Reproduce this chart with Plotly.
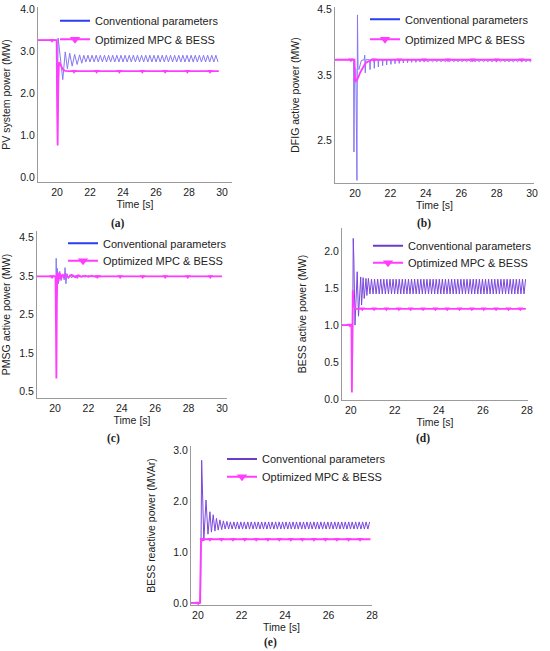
import plotly.graph_objects as go

# ------------------------------ (a) PV system power ------------------------------
pv_conv_t = [18.85, 19.98, 20.02, 20.07, 20.35, 20.5, 20.63, 20.77, 20.92, 21.07, 21.22, 21.37, 21.5,
             21.625, 21.75, 21.875, 22.0, 22.125, 22.25, 22.375, 22.5, 22.625, 22.75,
             22.875, 23.0, 23.125, 23.25, 23.375, 23.5, 23.625, 23.75, 23.875, 24.0,
             24.125, 24.25, 24.375, 24.5, 24.625, 24.75, 24.875, 25.0, 25.125, 25.25,
             25.375, 25.5, 25.625, 25.75, 25.875, 26.0, 26.125, 26.25, 26.375, 26.5,
             26.625, 26.75, 26.875, 27.0, 27.125, 27.25, 27.375, 27.5, 27.625, 27.75,
             27.875, 28.0, 28.125, 28.25, 28.375, 28.5, 28.625, 28.75, 28.875, 29.0,
             29.125, 29.25, 29.375, 29.5, 29.625, 29.75]
pv_conv_p = [3.26, 3.26, 1.90, 3.31, 2.32, 2.98, 2.58, 2.95, 2.64, 2.92, 2.68, 2.91, 2.71,
             2.90, 2.74, 2.90, 2.74, 2.90, 2.74, 2.90, 2.74, 2.90, 2.74,
             2.90, 2.74, 2.90, 2.74, 2.90, 2.74, 2.90, 2.74, 2.90, 2.74,
             2.90, 2.74, 2.90, 2.74, 2.90, 2.74, 2.90, 2.74, 2.90, 2.74,
             2.90, 2.74, 2.90, 2.74, 2.90, 2.74, 2.90, 2.74, 2.90, 2.74,
             2.90, 2.74, 2.90, 2.74, 2.90, 2.74, 2.90, 2.74, 2.90, 2.74,
             2.90, 2.74, 2.90, 2.74, 2.90, 2.74, 2.90, 2.74, 2.90, 2.74,
             2.90, 2.74, 2.90, 2.74, 2.90, 2.74]
pv_opt_t = [18.85, 19.98, 20.01, 20.04, 20.08, 20.12, 20.18, 20.26, 20.36, 20.5, 20.7, 29.8]
pv_opt_p = [3.26, 3.26, 1.60, 0.75, 2.20, 2.73, 2.70, 2.62, 2.56, 2.53, 2.52, 2.52]
pv_mk_t = [19.7, 21.03, 22.4, 23.78, 25.17, 26.55, 27.9, 29.27]
pv_mk_p = [3.26, 2.52, 2.52, 2.52, 2.52, 2.52, 2.52, 2.52]

# ------------------------------ (b) DFIG active power ------------------------------
dfig_conv_t = [18.87, 19.92, 19.94, 19.97, 20.05, 20.11, 20.14, 20.17, 20.22, 20.28, 20.36, 20.52, 20.55, 20.58, 20.61,
               20.83, 20.85, 20.87, 21.07, 21.09, 21.11, 21.30, 21.32, 21.34, 21.54, 21.56, 21.58,
               21.77, 21.79, 21.81, 22.01, 22.03, 22.05, 22.24, 22.26, 22.28, 22.48, 22.50, 22.52,
               22.71, 22.73, 22.75, 22.95, 22.97, 22.99, 23.18, 23.20, 23.22, 23.42, 23.44, 23.46,
               23.65, 23.67, 23.69, 23.89, 23.91, 23.93,
               24.14, 24.26, 24.38, 24.50, 24.62, 24.74, 24.86, 24.98, 25.10, 25.22,
               25.34, 25.46, 25.58, 25.70, 25.82, 25.94, 26.06, 26.18, 26.30, 26.42,
               26.54, 26.66, 26.78, 26.90, 27.02, 27.14, 27.26, 27.38, 27.50, 27.62,
               27.74, 27.86, 27.98, 28.10, 28.22, 28.34, 28.46, 28.58, 28.70, 28.82,
               28.94, 29.06, 29.18, 29.30, 29.42, 29.54, 29.66, 29.78, 29.90, 29.95]
dfig_conv_p = [3.73, 3.73, 2.33, 3.62, 3.58, 1.90, 4.41, 3.60, 3.58, 3.66, 3.72, 3.73, 3.80, 3.53, 3.73,
               3.73, 3.58, 3.73, 3.73, 3.60, 3.73, 3.73, 3.62, 3.73, 3.73, 3.64, 3.73,
               3.73, 3.65, 3.73, 3.73, 3.66, 3.73, 3.73, 3.67, 3.73, 3.73, 3.675, 3.73,
               3.73, 3.68, 3.73, 3.73, 3.685, 3.73, 3.73, 3.69, 3.73, 3.73, 3.69, 3.73,
               3.73, 3.695, 3.73, 3.73, 3.70, 3.73,
               3.70, 3.73, 3.70, 3.73, 3.70, 3.73, 3.70, 3.73, 3.70, 3.73,
               3.70, 3.73, 3.70, 3.73, 3.70, 3.73, 3.70, 3.73, 3.70, 3.73,
               3.70, 3.73, 3.70, 3.73, 3.70, 3.73, 3.70, 3.73, 3.70, 3.73,
               3.70, 3.73, 3.70, 3.73, 3.70, 3.73, 3.70, 3.73, 3.70, 3.73,
               3.70, 3.73, 3.70, 3.73, 3.70, 3.73, 3.70, 3.73, 3.70, 3.73]
dfig_opt_t = [18.87, 19.97, 20.0, 20.05, 20.1, 20.18, 20.3, 20.45, 20.6, 20.8, 21.0, 29.95]
dfig_opt_p = [3.73, 3.73, 3.45, 3.42, 3.43, 3.46, 3.54, 3.62, 3.68, 3.71, 3.73, 3.73]
dfig_mk_t = [19.77, 20.04, 21.07, 22.5, 23.9, 25.25, 26.65, 28.0, 29.4]
dfig_mk_p = [3.73, 3.42, 3.73, 3.73, 3.73, 3.73, 3.73, 3.73, 3.73]

# ------------------------------ (c) PMSG active power ------------------------------
pmsg_conv_t = [18.92, 20.02, 20.05, 20.07, 20.10, 20.14, 20.20, 20.28, 20.36, 20.45, 20.55, 20.60, 20.65, 20.72,
               20.80, 20.90, 21.00, 21.10, 21.20, 21.35, 21.50, 21.65, 21.80, 22.00, 22.20, 22.40, 22.60, 23.00, 30.00]
pmsg_conv_p = [3.49, 3.49, 3.20, 3.96, 3.15, 3.70, 3.30, 3.62, 3.38, 3.55, 3.40, 3.72, 3.30, 3.56,
               3.44, 3.54, 3.45, 3.53, 3.46, 3.52, 3.47, 3.51, 3.47, 3.51, 3.48, 3.50, 3.48, 3.49, 3.49]
pmsg_opt_t = [18.92, 20.03, 20.06, 20.08, 20.11, 20.14, 20.20, 20.27, 20.35, 20.45, 20.55, 20.65,
              20.80, 21.00, 21.20, 21.40, 21.60, 21.80, 22.00, 22.20, 22.40, 22.60, 22.80, 30.00]
pmsg_opt_p = [3.49, 3.49, 2.00, 0.84, 2.80, 3.60, 3.35, 3.58, 3.42, 3.55, 3.45, 3.54,
              3.46, 3.53, 3.47, 3.52, 3.48, 3.51, 3.48, 3.51, 3.48, 3.50, 3.49, 3.49]
pmsg_mk_t = [19.82, 20.28, 21.33, 22.53, 23.9, 25.25, 26.6, 27.95, 29.3]
pmsg_mk_p = [3.49, 3.49, 3.49, 3.49, 3.49, 3.49, 3.49, 3.49, 3.49]

# ------------------------------ (d) BESS active power ------------------------------
bessp_conv_t = [19.6, 20.04, 20.08, 20.11, 20.14, 20.19, 20.29, 20.35, 20.45, 20.49, 20.56, 20.61, 20.69, 20.73,
                20.80, 20.87, 20.94, 21.01, 21.08, 21.15, 21.22, 21.29, 21.36, 21.43,
                21.50, 21.57, 21.64, 21.71, 21.78, 21.85, 21.92, 21.99, 22.06, 22.13,
                22.20, 22.27, 22.34, 22.41, 22.48, 22.55, 22.62, 22.69, 22.76, 22.83,
                22.90, 22.97, 23.04, 23.11, 23.18, 23.25, 23.32, 23.39, 23.46, 23.53,
                23.60, 23.67, 23.74, 23.81, 23.88, 23.95, 24.02, 24.09, 24.16, 24.23,
                24.30, 24.37, 24.44, 24.51, 24.58, 24.65, 24.72, 24.79, 24.86, 24.93,
                25.00, 25.07, 25.14, 25.21, 25.28, 25.35, 25.42, 25.49, 25.56, 25.63,
                25.70, 25.77, 25.84, 25.91, 25.98, 26.05, 26.12, 26.19, 26.26, 26.33,
                26.40, 26.47, 26.54, 26.61, 26.68, 26.75, 26.82, 26.89, 26.96, 27.03,
                27.10, 27.17, 27.24, 27.31, 27.38, 27.45, 27.52, 27.59, 27.66, 27.73,
                27.80, 27.87, 27.94]
bessp_conv_p = [1.00, 1.00, 0.60, 2.17, 1.88, 1.00, 1.72, 1.12, 1.65, 1.27, 1.64, 1.36, 1.63, 1.40,
                1.63, 1.42, 1.62, 1.42, 1.62, 1.42, 1.62, 1.42, 1.62, 1.42,
                1.62, 1.42, 1.62, 1.42, 1.62, 1.42, 1.62, 1.42, 1.62, 1.42,
                1.62, 1.42, 1.62, 1.42, 1.62, 1.42, 1.62, 1.42, 1.62, 1.42,
                1.62, 1.42, 1.62, 1.42, 1.62, 1.42, 1.62, 1.42, 1.62, 1.42,
                1.62, 1.42, 1.62, 1.42, 1.62, 1.42, 1.62, 1.42, 1.62, 1.42,
                1.62, 1.42, 1.62, 1.42, 1.62, 1.42, 1.62, 1.42, 1.62, 1.42,
                1.62, 1.42, 1.62, 1.42, 1.62, 1.42, 1.62, 1.42, 1.62, 1.42,
                1.62, 1.42, 1.62, 1.42, 1.62, 1.42, 1.62, 1.42, 1.62, 1.42,
                1.62, 1.42, 1.62, 1.42, 1.62, 1.42, 1.62, 1.42, 1.62, 1.42,
                1.62, 1.42, 1.62, 1.42, 1.62, 1.42, 1.62, 1.42, 1.62, 1.42,
                1.62, 1.42, 1.62]
bessp_opt_t = [19.6, 20.03, 20.05, 20.07, 20.09, 20.12, 20.16, 20.22, 27.95]
bessp_opt_p = [1.00, 1.00, 0.09, 1.00, 1.47, 1.32, 1.25, 1.22, 1.22]
bessp_mk_t = [19.96, 20.52, 21.06, 21.62, 22.18, 22.72, 23.28, 23.84, 24.38, 24.94, 25.5, 26.04, 26.6, 27.16, 27.7]
bessp_mk_p = [1.00, 1.22, 1.22, 1.22, 1.22, 1.22, 1.22, 1.22, 1.22, 1.22, 1.22, 1.22, 1.22, 1.22, 1.22]

# ------------------------------ (e) BESS reactive power ------------------------------
bessq_conv_t = [19.68, 20.12, 20.17, 20.27, 20.37, 20.46, 20.55, 20.62, 20.70, 20.78, 20.85, 20.93,
                21.01, 21.09, 21.17, 21.25, 21.33, 21.41, 21.49, 21.57, 21.65, 21.73,
                21.81, 21.89, 21.97, 22.05, 22.13, 22.21, 22.29, 22.37, 22.45, 22.53,
                22.61, 22.69, 22.77, 22.85, 22.93, 23.01, 23.09, 23.17, 23.25, 23.33,
                23.41, 23.49, 23.57, 23.65, 23.73, 23.81, 23.89, 23.97, 24.05, 24.13,
                24.21, 24.29, 24.37, 24.45, 24.53, 24.61, 24.69, 24.77, 24.85, 24.93,
                25.01, 25.09, 25.17, 25.25, 25.33, 25.41, 25.49, 25.57, 25.65, 25.73,
                25.81, 25.89, 25.97, 26.05, 26.13, 26.21, 26.29, 26.37, 26.45, 26.53,
                26.61, 26.69, 26.77, 26.85, 26.93, 27.01, 27.09, 27.17, 27.25, 27.33,
                27.41, 27.49, 27.57, 27.65, 27.73, 27.81, 27.89]
bessq_conv_p = [0.00, 0.00, 2.80, 1.22, 2.02, 1.35, 1.79, 1.39, 1.73, 1.41, 1.66, 1.43,
                1.63, 1.44, 1.61, 1.45, 1.60, 1.45, 1.59, 1.45, 1.59, 1.45,
                1.59, 1.45, 1.59, 1.45, 1.59, 1.45, 1.59, 1.45, 1.59, 1.45,
                1.59, 1.45, 1.59, 1.45, 1.59, 1.45, 1.59, 1.45, 1.59, 1.45,
                1.59, 1.45, 1.59, 1.45, 1.59, 1.45, 1.59, 1.45, 1.59, 1.45,
                1.59, 1.45, 1.59, 1.45, 1.59, 1.45, 1.59, 1.45, 1.59, 1.45,
                1.59, 1.45, 1.59, 1.45, 1.59, 1.45, 1.59, 1.45, 1.59, 1.45,
                1.59, 1.45, 1.59, 1.45, 1.59, 1.45, 1.59, 1.45, 1.59, 1.45,
                1.59, 1.45, 1.59, 1.45, 1.59, 1.45, 1.59, 1.45, 1.59, 1.45,
                1.59, 1.45, 1.59, 1.45, 1.59, 1.45, 1.59]
bessq_opt_t = [19.68, 20.09, 20.14, 27.93]
bessq_opt_p = [0.00, 0.00, 1.25, 1.25]
bessq_mk_t = [20.01, 20.21, 20.55, 21.08, 21.61, 22.15, 22.68, 23.21, 23.74, 24.27, 24.8, 25.33, 25.86, 26.39, 26.92, 27.45]
bessq_mk_p = [0.00, 1.25, 1.25, 1.25, 1.25, 1.25, 1.25, 1.25, 1.25, 1.25, 1.25, 1.25, 1.25, 1.25, 1.25, 1.25]

# ------------------------------ style ------------------------------
W, H = 550, 651
FONT = "Liberation Sans, Arial, sans-serif"
MAGENTA = "#ff3cff"
BLUE_LINE, BLUE_LEG = "#8478f4", "#2b3df0"
PURPLE_LINE, PURPLE_LEG = "#7a48dc", "#6a3cc8"


def px_x(v):
    return min(1, max(0, v / W))


def px_y(v):
    return min(1, max(0, 1 - v / H))


fig = go.Figure()


def add_panel(n, conv_t, conv_p, opt_t, opt_p, mk_t, mk_p, conv_color, leg_color):
    xa = "x" if n == 1 else f"x{n}"
    ya = "y" if n == 1 else f"y{n}"
    # 每个图例条目单独一个legend，方便逐条定位
    lg1 = "legend" if n == 1 else f"legend{2 * n - 1}"
    lg2 = f"legend{2 * n}"
    fig.add_trace(go.Scatter(x=conv_t, y=conv_p, mode="lines", line=dict(color=conv_color, width=1),
                             xaxis=xa, yaxis=ya, showlegend=False))
    fig.add_trace(go.Scatter(x=opt_t, y=opt_p, mode="lines", line=dict(color=MAGENTA, width=1.8),
                             xaxis=xa, yaxis=ya, showlegend=False))
    fig.add_trace(go.Scatter(x=mk_t, y=mk_p, mode="markers",
                             marker=dict(symbol="triangle-down", size=5, color=MAGENTA),
                             xaxis=xa, yaxis=ya, showlegend=False))
    fig.add_trace(go.Scatter(x=[None], y=[None], mode="lines", line=dict(color=leg_color, width=2),
                             name="Conventional parameters", legend=lg1, xaxis=xa, yaxis=ya))
    fig.add_trace(go.Scatter(x=[None], y=[None], mode="lines+markers", line=dict(color=MAGENTA, width=2),
                             marker=dict(symbol="triangle-down", size=9, color=MAGENTA),
                             name="Optimized MPC & BESS", legend=lg2, xaxis=xa, yaxis=ya))


add_panel(1, pv_conv_t, pv_conv_p, pv_opt_t, pv_opt_p, pv_mk_t, pv_mk_p, BLUE_LINE, BLUE_LEG)
add_panel(2, dfig_conv_t, dfig_conv_p, dfig_opt_t, dfig_opt_p, dfig_mk_t, dfig_mk_p, BLUE_LINE, BLUE_LEG)
add_panel(3, pmsg_conv_t, pmsg_conv_p, pmsg_opt_t, pmsg_opt_p, pmsg_mk_t, pmsg_mk_p, BLUE_LINE, BLUE_LEG)
add_panel(4, bessp_conv_t, bessp_conv_p, bessp_opt_t, bessp_opt_p, bessp_mk_t, bessp_mk_p, PURPLE_LINE, PURPLE_LEG)
add_panel(5, bessq_conv_t, bessq_conv_p, bessq_opt_t, bessq_opt_p, bessq_mk_t, bessq_mk_p, PURPLE_LINE, PURPLE_LEG)

AXIS = dict(showline=True, linecolor="#9b9b9b", linewidth=1, showgrid=False, zeroline=False,
            ticks="", ticklen=0, automargin=False, tickfont=dict(family=FONT, size=10.5, color="#222"))

panels = [
    # x px domain, y px domain (top, bottom), x range, y range, x ticks, y ticks, y title,
    # legend text start, legend item centres
    ((38, 232), (7, 182), [18.85, 30.6], [-0.12, 4.05], [20, 22, 24, 26, 28, 30], [0, 1, 2, 3, 4],
     "PV system power (MW)", 95, (20.7, 39.3)),
    ((335, 534), (7, 183), [18.87, 30.11], [1.86, 4.53], [20, 22, 24, 26, 28, 30], [2.5, 3.5, 4.5],
     "DFIG active power (MW)", 405, (19.3, 39.3)),
    ((37, 227), (231, 398), [18.92, 30.3], [0.33, 4.67], [20, 22, 24, 26, 28, 30], [0.5, 1.5, 2.5, 3.5, 4.5],
     "PMSG active power (MW)", 103, (243.3, 260.7)),
    ((342, 528), (228, 400), [19.6, 28.05], [-0.01, 2.31], [20, 22, 24, 26, 28], [0.0, 0.5, 1.0, 1.5, 2.0],
     "BESS active power (MW)", 408, (245.7, 262.7)),
    ((191, 372), (446, 605), [19.68, 28.0], [-0.04, 3.08], [20, 22, 24, 26, 28], [0.0, 1.0, 2.0, 3.0],
     "BESS reactive power (MVAr)", 262, (459, 476.7)),
]

layout = dict(width=W, height=H, margin=dict(l=0, r=0, t=0, b=0),
              paper_bgcolor="white", plot_bgcolor="white", font=dict(family=FONT, color="#222"))

for i, (xd, yd, xr, yr, xt, yt, ytitle, leg_x, leg_ys) in enumerate(panels, start=1):
    sfx = "" if i == 1 else str(i)
    layout[f"xaxis{sfx}"] = dict(AXIS, domain=[px_x(xd[0]), px_x(xd[1])], anchor=f"y{sfx}", range=xr,
                                 tickvals=xt, title=dict(text="Time [s]", font=dict(size=10.5), standoff=2))
    layout[f"yaxis{sfx}"] = dict(AXIS, domain=[px_y(yd[1]), px_y(yd[0])], anchor=f"x{sfx}", range=yr,
                                 tickvals=yt, tickformat=".1f", title=dict(text=ytitle, font=dict(size=10.5)))
    for k, ly in enumerate(leg_ys):
        idx = 2 * i - 1 + k
        name = "legend" if idx == 1 else f"legend{idx}"
        layout[name] = dict(x=px_x(leg_x - 40), y=px_y(ly), xanchor="left", yanchor="middle",
                            bgcolor="rgba(0,0,0,0)", font=dict(size=11, color="#222"),
                            itemwidth=30, borderwidth=0)

captions = [("(a)", 118, 223), ("(b)", 424, 223), ("(c)", 113, 438), ("(d)", 423, 438), ("(e)", 270, 642)]
layout["annotations"] = [
    dict(text=f"<b>{c}</b>", x=px_x(cx), y=px_y(cy), xref="paper", yref="paper", showarrow=False,
         xanchor="center", yanchor="middle", font=dict(family="Liberation Serif, Times New Roman, serif", size=11.5, color="#222"))
    for c, cx, cy in captions
]

fig.update_layout(**layout)
# 去掉页面body的默认外边距，让图贴齐窗口左上角
fig.write_html("out.html", config={"displayModeBar": False},
               post_script="document.body.style.margin = '0';")
